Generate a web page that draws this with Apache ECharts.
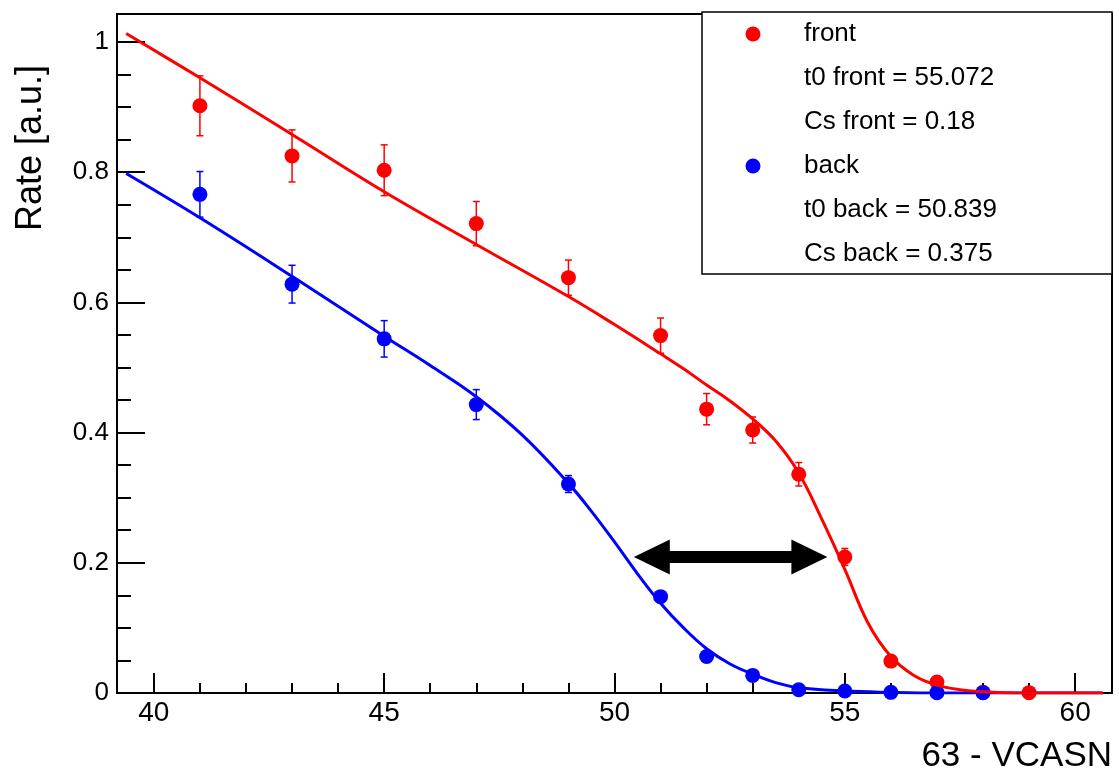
<!DOCTYPE html>
<html>
<head>
<meta charset="utf-8">
<script src="https://cdn.jsdelivr.net/npm/echarts@6/dist/echarts.min.js"></script>
<style>
  html, body { margin: 0; padding: 0; background: #fff; }
  #chart { width: 1119px; height: 773px; }
</style>
</head>
<body>
<div id="chart"></div>
<script>
// measured rate vs 63 - VCASN
var frontX = [41, 43, 45, 47, 49, 51, 52, 53, 54, 55, 56, 57, 58, 59]
var frontY = [0.902, 0.825, 0.803, 0.721, 0.638, 0.549, 0.436, 0.404, 0.336, 0.209, 0.049, 0.017, 0.001, 0.0005]
var frontErr = [0.046, 0.040, 0.039, 0.034, 0.027, 0.027, 0.024, 0.020, 0.018, 0.013, 0.004, 0.002, 0.001, 0.001]

var backX = [41, 43, 45, 47, 49, 51, 52, 53, 54, 55, 56, 57, 58]
var backY = [0.766, 0.628, 0.544, 0.443, 0.321, 0.148, 0.056, 0.027, 0.005, 0.003, 0.001, 0.0005, 0.0005]
var backErr = [0.035, 0.029, 0.028, 0.023, 0.013, 0.008, 0.005, 0.003, 0.001, 0.001, 0.001, 0.001, 0.001]

// fit curves
var frontFitX = [39.4, 41, 43, 45, 47, 49, 50, 51, 51.5, 52, 52.5, 53, 53.5, 54, 54.5, 55, 55.5, 56, 56.5, 57, 57.5, 58, 58.5, 59, 60.6]
var frontFitY = [1.013, 0.945, 0.858, 0.770, 0.689, 0.609, 0.566, 0.521, 0.498, 0.473, 0.449, 0.421, 0.387, 0.338, 0.267, 0.190, 0.108, 0.056, 0.027, 0.012, 0.005, 0.002, 0.0005, 0, 0]
var backFitX = [39.4, 41, 43, 45, 46, 47, 48, 49, 49.5, 50, 50.5, 51, 51.5, 52, 52.5, 53, 53.5, 54, 55, 56, 57, 58, 60.6]
var backFitY = [0.798, 0.730, 0.640, 0.548, 0.503, 0.455, 0.396, 0.322, 0.279, 0.232, 0.183, 0.138, 0.100, 0.068, 0.045, 0.029, 0.016, 0.008, 0.003, 0.001, 0, 0, 0]

// axes
var xMajorTicks = [40, 45, 50, 55, 60]
var xMinorTicks = [41, 42, 43, 44, 46, 47, 48, 49, 51, 52, 53, 54, 56, 57, 58, 59]
var yMajorTicks = [0, 0.2, 0.4, 0.6, 0.8, 1]
var yMinorTicks = [0.05, 0.1, 0.15, 0.25, 0.3, 0.35, 0.45, 0.5, 0.55, 0.65, 0.7, 0.75, 0.85, 0.9, 0.95]

// arrow between the two thresholds
var arrowFrom = [50.81, 0.209]
var arrowTo = [54.23, 0.209]

var legendLines = ['front', 't0 front = 55.072', 'Cs front = 0.18', 'back', 't0 back = 50.839', 'Cs back = 0.375']

var RED = '#ff0000'
var BLUE = '#0000ff'
var FONT = 'Liberation Sans, Arial, Helvetica, sans-serif'

function zip(xs, ys) {
  return xs.map(function (x, i) { return [x, ys[i]] })
}
function bars(xs, ys, es) {
  return xs.map(function (x, i) { return [x, ys[i] - es[i], ys[i] + es[i]] })
}

function errorBar(params, api) {
  var x = api.value(0)
  var lo = api.coord([x, api.value(1)])
  var hi = api.coord([x, api.value(2)])
  var cap = 3.5
  var style = { stroke: api.visual('color'), lineWidth: 1.5 }
  return {
    type: 'group',
    children: [
      { type: 'line', shape: { x1: lo[0], y1: lo[1], x2: hi[0], y2: hi[1] }, style: style },
      { type: 'line', shape: { x1: lo[0] - cap, y1: lo[1], x2: lo[0] + cap, y2: lo[1] }, style: style },
      { type: 'line', shape: { x1: hi[0] - cap, y1: hi[1], x2: hi[0] + cap, y2: hi[1] }, style: style }
    ]
  }
}

var tickStyle = { color: '#000', width: 2 }
var gridBox = { left: 117, top: 14, right: 7, bottom: 80 }

// legend box, drawn like the ROOT one
var legendItems = [
  { type: 'rect', shape: { x: 702, y: 12, width: 410, height: 262 }, style: { fill: '#fff', stroke: '#000', lineWidth: 1.5 } },
  { type: 'circle', shape: { cx: 753, cy: 34, r: 7.5 }, style: { fill: RED } },
  { type: 'circle', shape: { cx: 753, cy: 166, r: 7.5 }, style: { fill: BLUE } }
]
legendLines.forEach(function (t, i) {
  legendItems.push({
    type: 'text', x: 804, y: 34 + i * 44,
    style: { text: t, font: '26px ' + FONT, fill: '#000', textAlign: 'left', textVerticalAlign: 'middle' }
  })
})

var chart = echarts.init(document.getElementById('chart'))
chart.setOption({
  backgroundColor: '#fff',
  animation: false,
  grid: [
    Object.assign({ show: true, borderColor: '#000', borderWidth: 2, backgroundColor: 'transparent' }, gridBox),
    Object.assign({ show: false }, gridBox)
  ],
  xAxis: [
    {
      type: 'value', gridIndex: 0, min: 39.2, max: 60.8,
      axisLine: { show: false },
      splitLine: { show: false },
      axisTick: { inside: true, length: 20, lineStyle: tickStyle, customValues: xMajorTicks },
      axisLabel: { customValues: xMajorTicks, fontSize: 28, color: '#000', fontFamily: FONT, margin: 6 }
    },
    {
      type: 'value', gridIndex: 1, min: 39.2, max: 60.8,
      axisLine: { show: false },
      splitLine: { show: false },
      axisTick: { inside: true, length: 10, lineStyle: tickStyle, customValues: xMinorTicks },
      axisLabel: { show: false }
    }
  ],
  yAxis: [
    {
      type: 'value', gridIndex: 0, min: 0, max: 1.043,
      axisLine: { show: false },
      splitLine: { show: false },
      axisTick: { inside: true, length: 28, lineStyle: tickStyle, customValues: yMajorTicks },
      axisLabel: { customValues: yMajorTicks, fontSize: 26, color: '#000', fontFamily: FONT, margin: 8 }
    },
    {
      type: 'value', gridIndex: 1, min: 0, max: 1.043,
      axisLine: { show: false },
      splitLine: { show: false },
      axisTick: { inside: true, length: 14, lineStyle: tickStyle, customValues: yMinorTicks },
      axisLabel: { show: false }
    }
  ],
  series: [
    {
      name: 'back fit', type: 'line', data: zip(backFitX, backFitY),
      showSymbol: false, smooth: 0.4,
      lineStyle: { color: BLUE, width: 3 }
    },
    {
      name: 'front fit', type: 'line', data: zip(frontFitX, frontFitY),
      showSymbol: false, smooth: 0.4,
      lineStyle: { color: RED, width: 3 },
      markLine: {
        silent: true,
        symbol: ['triangle', 'triangle'],
        symbolSize: [35, 36],
        label: { show: false },
        itemStyle: { color: '#000' },
        lineStyle: { color: '#000', width: 12, type: 'solid' },
        data: [[{ coord: arrowFrom }, { coord: arrowTo }]]
      }
    },
    {
      name: 'front err', type: 'custom', renderItem: errorBar,
      itemStyle: { color: RED },
      encode: { x: 0, y: [1, 2] },
      data: bars(frontX, frontY, frontErr)
    },
    {
      name: 'front', type: 'scatter', data: zip(frontX, frontY),
      symbol: 'circle', symbolSize: 15,
      itemStyle: { color: RED, opacity: 1 }
    },
    {
      name: 'back err', type: 'custom', renderItem: errorBar,
      itemStyle: { color: BLUE },
      encode: { x: 0, y: [1, 2] },
      data: bars(backX, backY, backErr)
    },
    {
      name: 'back', type: 'scatter', data: zip(backX, backY),
      symbol: 'circle', symbolSize: 15,
      itemStyle: { color: BLUE, opacity: 1 }
    }
  ],
  graphic: [
    {
      type: 'text', x: 31, y: 148, rotation: Math.PI / 2,
      style: { text: 'Rate [a.u.]', font: '36px ' + FONT, fill: '#000', textAlign: 'center', textVerticalAlign: 'middle' }
    },
    {
      type: 'text', x: 1112, y: 756,
      style: { text: '63 - VCASN', font: '35px ' + FONT, fill: '#000', textAlign: 'right', textVerticalAlign: 'middle' }
    },
    { type: 'group', z: 100, children: legendItems }
  ]
})
</script>
</body>
</html>
